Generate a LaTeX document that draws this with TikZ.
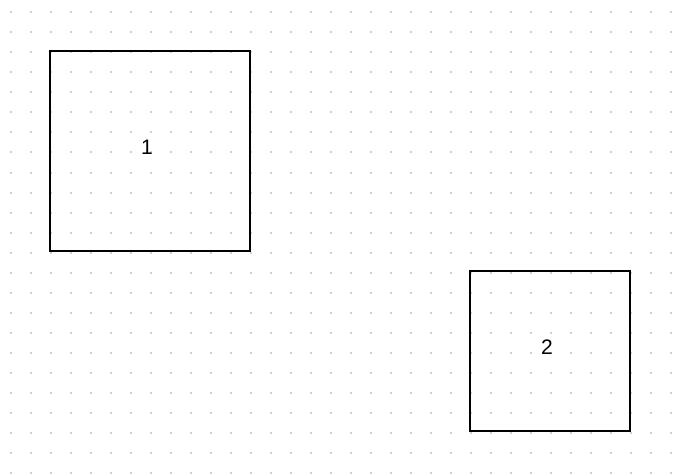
\documentclass[tikz,border=0pt]{standalone}
\usepackage{fontspec}
\setmainfont{Liberation Sans}
\definecolor{griddot}{RGB}{208,208,208}
\tikzset{
  box/.style={draw=black, line width=1.5pt, minimum width=#1, minimum height=#1, inner sep=0pt},
  boxlabel/.style={inner sep=0pt, font=\fontsize{21}{24}\selectfont}
}
\begin{document}
\begin{tikzpicture}[x=1pt, y=-1pt]
    % Sfondo
    \useasboundingbox[fill=white] (0,0) rectangle (688,476);
    % Griglia a punti
    \foreach \i in {0,...,33} {
        \foreach \j in {0,...,23} {
            \fill[griddot] (11+20*\i-1, 12.5+20*\j-1) rectangle ++(2,2);
        }
    }
    % Riquadri
    \node[box=200pt] (box1) at (150,151) {};
    \node[box=160pt] (box2) at (550,351) {};
    % Etichette
    \node[boxlabel] (label1) at ([shift={(-3,-4)}]box1.center) {1};
    \node[boxlabel] (label2) at ([shift={(-3,-4)}]box2.center) {2};
\end{tikzpicture}
\end{document}
